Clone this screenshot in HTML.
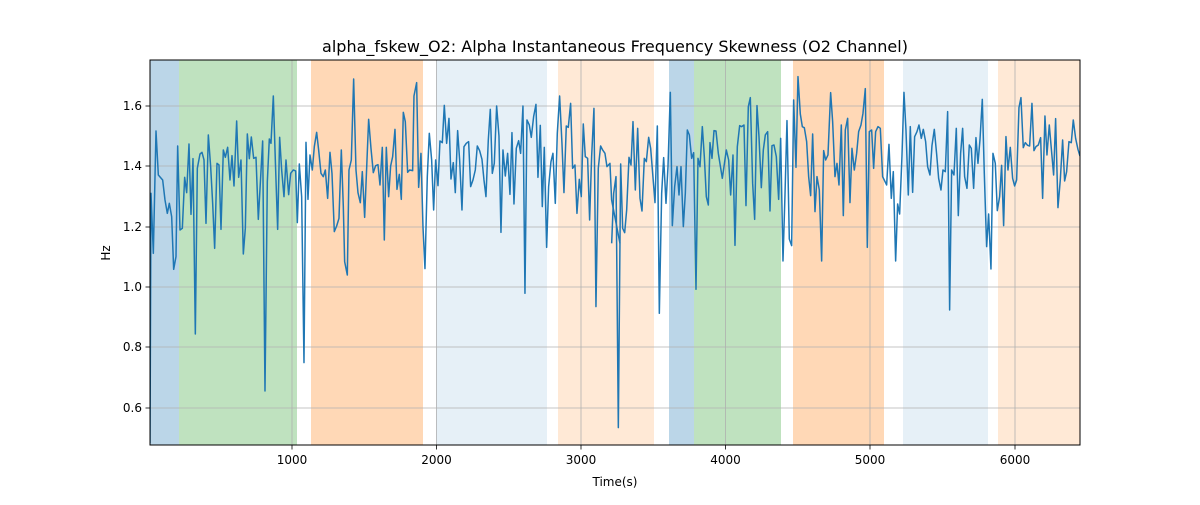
<!DOCTYPE html>
<html><head><meta charset="utf-8"><style>
body{margin:0;background:#fff;}
svg text{font-family:"DejaVu Sans","Liberation Sans",sans-serif;fill:#000;}
</style></head><body>
<svg width="1200" height="500" viewBox="0 0 1200 500" xmlns="http://www.w3.org/2000/svg">
<defs><clipPath id="c"><rect x="150" y="60" width="930" height="385"/></clipPath></defs>
<rect width="1200" height="500" fill="#fff"/>
<g>
<rect x="150" y="60" width="29" height="385" fill="#1f77b4" fill-opacity="0.3"/>
<rect x="179" y="60" width="118" height="385" fill="#2ca02c" fill-opacity="0.3"/>
<rect x="311" y="60" width="112" height="385" fill="#ff7f0e" fill-opacity="0.3"/>
<rect x="436" y="60" width="111" height="385" fill="#1f77b4" fill-opacity="0.11"/>
<rect x="558" y="60" width="96" height="385" fill="#ff7f0e" fill-opacity="0.17"/>
<rect x="669" y="60" width="25" height="385" fill="#1f77b4" fill-opacity="0.3"/>
<rect x="694" y="60" width="87" height="385" fill="#2ca02c" fill-opacity="0.3"/>
<rect x="793" y="60" width="91" height="385" fill="#ff7f0e" fill-opacity="0.3"/>
<rect x="903" y="60" width="85" height="385" fill="#1f77b4" fill-opacity="0.11"/>
<rect x="998" y="60" width="82" height="385" fill="#ff7f0e" fill-opacity="0.17"/>
</g>
<g stroke="#b0b0b0" stroke-width="0.8">
<line x1="292" y1="60" x2="292" y2="445"/><line x1="436.5" y1="60" x2="436.5" y2="445"/>
<line x1="581" y1="60" x2="581" y2="445"/><line x1="725.5" y1="60" x2="725.5" y2="445"/>
<line x1="870" y1="60" x2="870" y2="445"/><line x1="1015" y1="60" x2="1015" y2="445"/>
<line x1="150" y1="106" x2="1080" y2="106"/><line x1="150" y1="166" x2="1080" y2="166"/>
<line x1="150" y1="227" x2="1080" y2="227"/><line x1="150" y1="287" x2="1080" y2="287"/>
<line x1="150" y1="347" x2="1080" y2="347"/><line x1="150" y1="408" x2="1080" y2="408"/>
</g>
<g clip-path="url(#c)" fill="none" stroke="#1f77b4" stroke-width="1.5" stroke-linejoin="round">
<polyline vector-effect="non-scaling-stroke" transform="translate(140,60) scale(0.3333)" points="30,1150 33,400 40,580 48,213 55,345 68,360 75,420 82,460 88,430 95,470 101,628 108,590 113,258 120,510 127,505 134,352 140,398 147,252 153,463 159,296 166,822 172,325 180,282 186,277 192,300 198,490 205,225 212,320 218,430 224,565 231,310 237,315 243,508 250,270 256,292 263,262 270,360 276,287 282,378 290,183 296,352 303,300 310,582 316,505 322,222 328,296 334,231 341,295 348,292 355,478 368,243 375,993 382,365 388,237 393,250 400,108 406,300 413,508 419,232 425,330 432,410 438,300 446,404 452,340 460,330 467,333 472,488 478,312 485,410 492,908 498,247 504,418 510,285 517,330 523,260 530,217 536,270 543,340 550,350 556,330 563,415 570,277 576,340 583,515 590,498 597,475 604,270 610,440 614,605 622,645 627,330 634,300 641,57 648,330 654,398 661,428 667,335 674,472 686,178 693,265 700,338 707,317 714,314 720,375 727,262 733,540 739,262 746,410 752,318 758,290 765,208 771,388 778,343 784,418 790,157 796,185 803,337 809,330 818,332 822,108 830,68 836,382 843,280 849,500 855,626 862,350 868,220 875,300 881,450 887,300 894,377 900,243 907,248 913,136 920,250 927,175 933,357 940,308 946,398 953,212 959,300 966,450 972,260 979,250 986,245 992,380 999,360 1006,330 1012,258 1019,272 1026,298 1032,360 1038,410 1045,240 1051,148 1057,340 1063,310 1070,138 1077,228 1083,517 1089,270 1096,348 1103,280 1110,403 1116,218 1122,432 1129,265 1136,242 1142,280 1149,138 1155,700 1161,180 1168,195 1174,232 1181,170 1188,133 1194,352 1201,196 1207,440 1213,262 1220,562 1226,380 1233,305 1239,280 1246,430 1252,220 1259,108 1266,250 1272,398 1279,198 1285,202 1292,130 1298,325 1305,315 1311,460 1318,358 1324,410 1330,192 1336,290 1343,295 1349,480 1355,290 1362,145 1368,740 1375,325 1382,258 1388,270 1395,280 1401,320 1410,310 1415,420 1440,550"/>
<polyline vector-effect="non-scaling-stroke" transform="translate(600,60) scale(0.3333)" points="35,550 41,400 48,350 55,1103 62,312 68,505 74,518 80,450 87,292 93,315 99,185 106,390 113,205 120,415 126,453 133,295 139,305 146,232 152,265 158,340 165,428 172,198 178,760 185,400 191,293 198,430 204,320 211,97 217,497 224,380 231,320 237,405 243,320 250,500 256,400 262,210 268,225 275,295 281,278 288,688 294,295 300,320 307,200 313,290 319,410 325,435 330,248 336,295 342,212 348,213 355,280 367,355 379,270 386,300 392,405 399,285 405,556 412,260 419,197 425,200 432,195 438,437 445,140 451,113 458,370 464,478 471,137 477,230 484,383 490,270 496,225 503,215 510,453 516,257 522,255 529,290 536,418 542,235 549,603 555,405 561,182 568,537 575,557 581,120 588,322 594,50 601,162 607,200 613,203 620,245 626,350 632,407 638,222 645,455 651,350 658,390 665,603 671,272 677,300 684,285 692,98 698,185 705,350 711,310 717,375 724,195 730,467 736,210 743,175 750,428 756,265 763,330 770,280 776,215 783,195 789,160 796,86 802,562 808,215 815,210 821,325 827,215 834,200 841,205 848,350 860,375 867,253 874,415 880,335 887,603 893,432 899,462 906,288 912,97 918,210 925,405 931,200 938,397 944,230 951,215 957,195 964,235 970,208 977,245 983,320 990,345 996,257 1003,208 1010,282 1016,355 1023,390 1029,330 1036,335 1043,155 1049,750 1055,330 1062,345 1069,205 1075,467 1082,280 1088,205 1094,350 1101,385 1108,255 1114,265 1121,385 1128,233 1134,310 1140,240 1147,118 1153,340 1160,560 1166,462 1173,627 1179,280 1186,310 1192,452 1199,410 1205,316 1211,497 1218,230 1224,330 1231,262 1238,355 1244,378 1250,360 1257,143 1263,113 1270,263 1276,248 1283,256 1289,258 1296,130 1302,272 1308,260 1315,255 1322,233 1328,415 1335,168 1341,285 1348,195 1354,265 1361,345 1367,176 1374,443 1381,360 1388,240 1394,363 1400,335 1407,245 1414,248 1420,180 1427,235 1434,268 1440,288"/>
</g>
<rect x="150" y="60" width="930" height="385" fill="none" stroke="#000" stroke-width="1"/>
<g stroke="#000" stroke-width="0.8">
<line x1="292" y1="445" x2="292" y2="449.5"/><line x1="436.5" y1="445" x2="436.5" y2="449.5"/>
<line x1="581" y1="445" x2="581" y2="449.5"/><line x1="725.5" y1="445" x2="725.5" y2="449.5"/>
<line x1="870" y1="445" x2="870" y2="449.5"/><line x1="1015" y1="445" x2="1015" y2="449.5"/>
<line x1="145.5" y1="106" x2="150" y2="106"/><line x1="145.5" y1="166" x2="150" y2="166"/>
<line x1="145.5" y1="227" x2="150" y2="227"/><line x1="145.5" y1="287" x2="150" y2="287"/>
<line x1="145.5" y1="347" x2="150" y2="347"/><line x1="145.5" y1="408" x2="150" y2="408"/>
</g>
<g font-size="12" text-anchor="middle">
<text x="292" y="464">1000</text><text x="436.5" y="464">2000</text><text x="581" y="464">3000</text>
<text x="725.5" y="464">4000</text><text x="870" y="464">5000</text><text x="1015" y="464">6000</text>
</g>
<g font-size="12" text-anchor="end">
<text x="142" y="110">1.6</text><text x="142" y="170">1.4</text><text x="142" y="231">1.2</text>
<text x="142" y="291">1.0</text><text x="142" y="351">0.8</text><text x="142" y="412">0.6</text>
</g>
<text x="615" y="486" font-size="12" text-anchor="middle">Time(s)</text>
<text x="0" y="0" font-size="12" text-anchor="middle" transform="translate(110,253) rotate(-90)">Hz</text>
<text x="615" y="52" font-size="16" text-anchor="middle">alpha_fskew_O2: Alpha Instantaneous Frequency Skewness (O2 Channel)</text>
</svg>
</body></html>
